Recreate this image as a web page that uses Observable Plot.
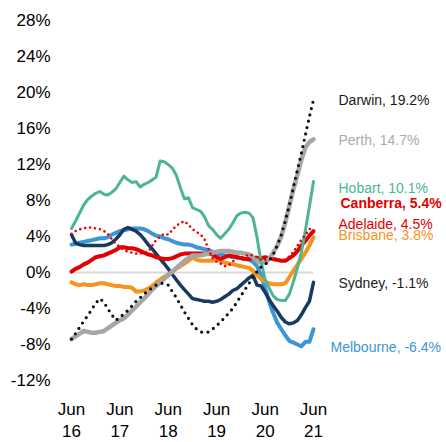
<!DOCTYPE html>
<html><head><meta charset="utf-8">
<script src="https://cdn.jsdelivr.net/npm/d3@7"></script>
<script src="https://cdn.jsdelivr.net/npm/@observablehq/plot@0.6"></script>
<style>body{margin:0;background:#fff} svg{display:block}</style>
</head><body><div id="chart"></div>
<script>
// Monthly values, Jun 2016 .. Jun 2021 (61 months), annual % change
const firstMonth = "2016-06-01";
const darwin    = [-7.4,-6.8,-6.1,-5.4,-4.8,-4.1,-3.4,-2.9,-3.3,-4.0,-4.7,-5.3,-5.0,-4.6,-4.2,-3.7,-3.2,-2.8,-2.4,-2.0,-1.7,-1.4,-1.2,-1.2,-1.4,-2.1,-2.8,-3.6,-4.4,-5.1,-5.8,-6.3,-6.6,-6.7,-6.6,-6.3,-5.9,-5.5,-5.0,-4.5,-4.0,-3.3,-2.6,-1.9,-1.2,-0.5,0.1,0.6,0.9,1.3,2.0,3.0,4.2,5.8,7.5,9.5,11.5,13.2,15.3,17.3,19.2];
const perth     = [-7.4,-7.1,-6.8,-6.5,-6.6,-6.7,-6.7,-6.6,-6.5,-6.2,-5.9,-5.6,-5.3,-5.1,-4.7,-4.2,-3.8,-3.3,-2.9,-2.4,-1.9,-1.5,-1.1,-0.7,-0.3,0.1,0.5,0.9,1.3,1.6,1.9,1.9,1.9,2.0,2.1,2.2,2.3,2.4,2.4,2.4,2.3,2.2,2.2,2.1,2.0,1.7,1.3,1.1,1.1,1.5,2.2,3.0,4.0,5.6,7.4,9.3,10.9,12.5,13.9,14.5,14.8];
const hobart    = [4.9,5.7,6.6,7.5,8.1,8.5,8.8,9.0,8.7,8.6,8.9,9.3,10.0,10.7,10.3,10.0,10.1,9.5,9.8,10.0,10.3,10.6,12.4,12.3,12.0,11.6,10.8,9.4,8.2,8.3,7.2,7.0,6.8,6.2,5.2,4.8,4.2,3.8,4.3,4.8,5.5,6.3,6.6,6.7,6.6,6.1,3.9,1.2,-0.8,-1.7,-2.6,-3.0,-3.1,-3.1,-2.4,-1.0,0.6,2.2,4.7,7.3,10.1];
const canberra  = [4.3,4.6,4.8,4.9,5.0,5.0,4.9,4.8,4.6,4.3,3.7,3.2,2.8,2.5,2.3,2.2,2.1,2.1,2.2,2.3,3.0,3.6,4.0,4.3,4.2,4.7,5.2,5.5,5.7,5.3,4.8,4.5,4.2,3.7,2.6,1.6,1.2,1.0,0.7,0.8,1.2,1.6,1.7,1.8,2.0,1.9,1.7,1.4,1.4,1.5,1.4,1.3,1.3,1.4,1.8,2.3,3.0,3.6,4.2,4.8,5.2];
const adelaide  = [0.1,0.4,0.6,0.9,1.1,1.4,1.7,1.8,1.9,2.1,2.3,2.5,2.8,2.8,2.7,2.7,2.6,2.4,2.2,2.0,1.9,1.7,1.6,1.5,1.5,1.6,1.8,2.0,2.1,2.1,2.1,2.1,2.1,2.1,2.1,2.0,1.7,1.5,1.7,1.9,1.8,1.7,1.6,1.5,1.5,1.6,1.6,1.6,1.7,1.6,1.5,1.4,1.3,1.3,1.6,1.9,2.4,3.0,3.5,4.1,4.6];
const brisbane  = [-1.1,-1.3,-1.4,-1.3,-1.4,-1.4,-1.3,-1.2,-1.2,-1.3,-1.4,-1.5,-1.5,-1.6,-1.6,-1.7,-2.1,-2.1,-2.0,-1.8,-1.5,-1.1,-0.8,-0.5,-0.2,0.1,0.4,0.7,1.0,1.3,1.7,1.4,1.3,1.3,1.3,1.3,1.4,1.3,1.1,1.0,0.9,0.8,0.7,0.6,0.5,0.2,-0.3,-0.7,-1.0,-1.2,-1.3,-1.3,-1.3,-1.2,-0.5,0.2,0.9,1.5,2.2,3.0,3.9];
const sydney    = [4.2,3.3,3.1,3.0,3.0,3.0,3.0,3.0,3.0,3.1,3.3,3.7,4.2,4.8,5.0,4.8,4.6,4.2,3.7,3.1,2.6,2.1,1.5,1.0,0.4,-0.2,-0.8,-1.4,-1.9,-2.4,-2.9,-3.0,-3.1,-3.2,-3.2,-3.3,-3.2,-3.0,-2.7,-2.4,-2.0,-1.8,-1.4,-1.0,-0.6,-0.3,-1.4,-1.5,-2.2,-3.0,-3.7,-4.3,-5.0,-5.5,-5.7,-5.6,-5.3,-4.7,-3.9,-3.2,-1.1];
const melbourne = [3.1,3.2,3.3,3.4,3.5,3.6,3.7,3.8,3.8,3.9,4.2,4.4,4.6,4.7,4.8,4.9,4.9,4.9,4.8,4.6,4.3,4.1,4.0,3.8,3.7,3.5,3.3,3.2,3.1,3.1,3.0,2.8,2.7,2.6,2.5,2.3,2.1,2.0,1.9,1.8,1.7,1.7,1.6,1.5,1.4,1.2,0.7,-0.3,-1.7,-3.2,-4.5,-5.6,-6.3,-7.0,-7.6,-7.8,-8.0,-8.2,-7.7,-7.7,-6.3];

const labelNames = ["Darwin, 19.2%","Perth, 14.7%","Hobart, 10.1%","Canberra, 5.4%","Adelaide, 4.5%","Brisbane, 3.8%","Sydney, -1.1%","Melbourne, -6.4%"];
const labelY     = [19.1, 14.7, 9.3, 7.65, 5.3, 4.1, -1.2, -8.3];
const yTicks = [-12,-8,-4,0,4,8,12,16,20,24,28];
const xTickYears = [2016,2017,2018,2019,2020,2021];

const t0 = new Date(firstMonth + "T00:00:00Z");
const month = i => d3.utcMonth.offset(t0, i);
const toRows = (arr) => arr.map((v, i) => ({date: month(i), value: v}));
const lastDate = month(darwin.length - 1);

// draw order bottom → top, with styles
const series = [
  {data: melbourne, stroke: "#3A96D6", width: 4},
  {data: sydney,    stroke: "#173A5E", width: 3.5},
  {data: brisbane,  stroke: "#F7941D", width: 4},
  {data: adelaide,  stroke: "#E30000", width: 4},
  {data: perth,     stroke: "#A6A6A6", width: 4.5},
  {data: hobart,    stroke: "#4CB592", width: 3},
  {data: canberra,  stroke: "#E30000", width: 2.6, dash: "0,5"},
  {data: darwin,    stroke: "#111111", width: 3.2, dash: "0,6.5"}
];
const labelStyle = [
  {fill: "#1a1a1a", dx: 25},
  {fill: "#ABABAB", dx: 25},
  {fill: "#4CB592", dx: 25},
  {fill: "#E30000", dx: 27, bold: true},
  {fill: "#E30000", dx: 25},
  {fill: "#F7941D", dx: 25},
  {fill: "#1a1a1a", dx: 25},
  {fill: "#3A96D6", dx: 17}
];
const labels = labelNames.map((t, i) => ({text: t, y: labelY[i], x: lastDate, ...labelStyle[i]}));

const marks = [
  Plot.ruleY([0], {stroke: "#D9D9D9", strokeWidth: 2}),
  ...series.map(s => Plot.line(toRows(s.data), {
    x: "date", y: "value", stroke: s.stroke, strokeWidth: s.width,
    strokeDasharray: s.dash, strokeLinecap: "round", strokeLinejoin: "round", curve: "linear"
  })),
  ...labels.map(l => Plot.text([l], {x: "x", y: "y", text: "text", fill: l.fill, dx: l.dx,
    textAnchor: "start", fontSize: 14, fontWeight: l.bold ? "bold" : "normal"})),
  Plot.axisY({ticks: yTicks, tickFormat: d => d + "%", tickSize: 0, tickPadding: 21, fontSize: 17}),
  Plot.axisX({ticks: xTickYears.map(y => new Date(Date.UTC(y, 5, 1))), tickFormat: d => "Jun\n" + String(d.getUTCFullYear()).slice(2),
    tickSize: 0, tickPadding: 18, fontSize: 17, lineHeight: 1.33})
];

const chart = Plot.plot({
  width: 446, height: 442,
  marginLeft: 71, marginRight: 133, marginTop: 20, marginBottom: 62,
  style: {fontFamily: "'Liberation Sans', Arial, sans-serif", background: "#fff", overflow: "visible"},
  x: {type: "utc", domain: [t0, lastDate]},
  y: {domain: [-12, 28]},
  marks
});
document.getElementById("chart").appendChild(chart);
</script></body></html>
